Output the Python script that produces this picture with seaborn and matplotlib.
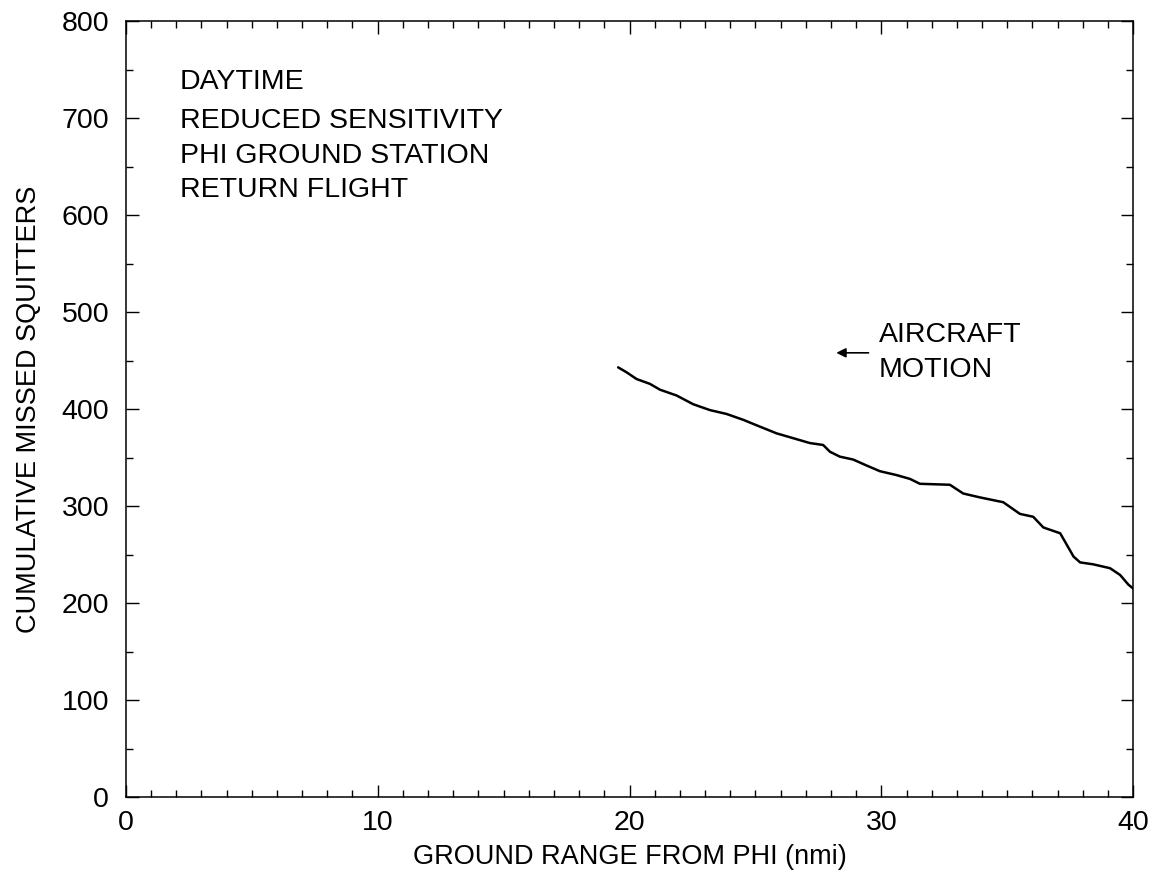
import numpy as np
import pandas as pd
import matplotlib
matplotlib.use('Agg')
import matplotlib.pyplot as plt
import seaborn as sns
from matplotlib.ticker import MultipleLocator

# ground range (nmi) and cumulative missed squitters
range_nmi = [19.55, 19.88, 20.28, 20.81, 21.21, 21.87, 22.53, 23.19, 23.85,
             24.51, 25.17, 25.84, 26.50, 27.16, 27.69, 27.96, 28.35, 28.88,
             29.40, 29.94, 30.60, 31.14, 31.53, 32.72, 33.25, 33.91, 34.84,
             35.50, 36.03, 36.43, 37.10, 37.63, 37.89, 38.41, 39.08, 39.48,
             39.81, 40.00]
missed = [443, 438, 431, 426, 420, 414, 405, 399, 395,
          389, 382, 375, 370, 365, 363, 356, 351, 348,
          342, 336, 332, 328, 323, 322, 313, 309, 304,
          292, 289, 278, 272, 248, 242, 240, 236, 229,
          219, 215]

info_lines = ['DAYTIME', 'REDUCED SENSITIVITY', 'PHI GROUND STATION', 'RETURN FLIGHT']
info_y = [737, 697, 661, 626]
motion_lines = ['AIRCRAFT', 'MOTION']
motion_y = [476, 440]

sns.set_theme(style='ticks')
plt.rcParams['font.family'] = ['Liberation Sans', 'DejaVu Sans']
plt.rcParams['text.color'] = 'black'
plt.rcParams['axes.labelcolor'] = 'black'
plt.rcParams['xtick.color'] = 'black'
plt.rcParams['ytick.color'] = 'black'

df = pd.DataFrame({'range': range_nmi, 'missed': missed})

fig = plt.figure(figsize=(11.54, 8.76), dpi=100)
ax = fig.add_axes([0.109, 0.090, 0.873, 0.886])

sns.lineplot(data=df, x='range', y='missed', ax=ax, color='black',
             linewidth=1.8)

ax.set_xlim(0, 40)
ax.set_ylim(0, 800)
ax.xaxis.set_major_locator(MultipleLocator(10))
ax.xaxis.set_minor_locator(MultipleLocator(1))
ax.yaxis.set_major_locator(MultipleLocator(100))
ax.yaxis.set_minor_locator(MultipleLocator(50))
ax.tick_params(which='both', direction='in', top=True, right=True,
               color='black', width=1, labelsize=20.5)
ax.tick_params(which='major', length=9)
ax.tick_params(axis='x', which='major', pad=9)
ax.tick_params(axis='y', which='major', pad=12)
ax.tick_params(which='minor', length=5)
for s in ax.spines.values():
    s.set_color('black')
    s.set_linewidth(1.1)

ax.set_xlabel('GROUND RANGE FROM PHI (nmi)', fontsize=19.5, labelpad=6)
ax.set_ylabel('CUMULATIVE MISSED SQUITTERS', fontsize=19.5, labelpad=14)

for txt, yv in zip(info_lines, info_y):
    ax.text(2.14, yv, txt, fontsize=20.5, va='center', ha='left')

ax.annotate('', xy=(28.1, 458), xytext=(29.6, 458),
            arrowprops=dict(arrowstyle='-|>', color='black', lw=1.2,
                            mutation_scale=14))
for txt, yv in zip(motion_lines, motion_y):
    ax.text(29.9, yv, txt, fontsize=20.5, va='center', ha='left')

fig.savefig('out.png', dpi=100)
